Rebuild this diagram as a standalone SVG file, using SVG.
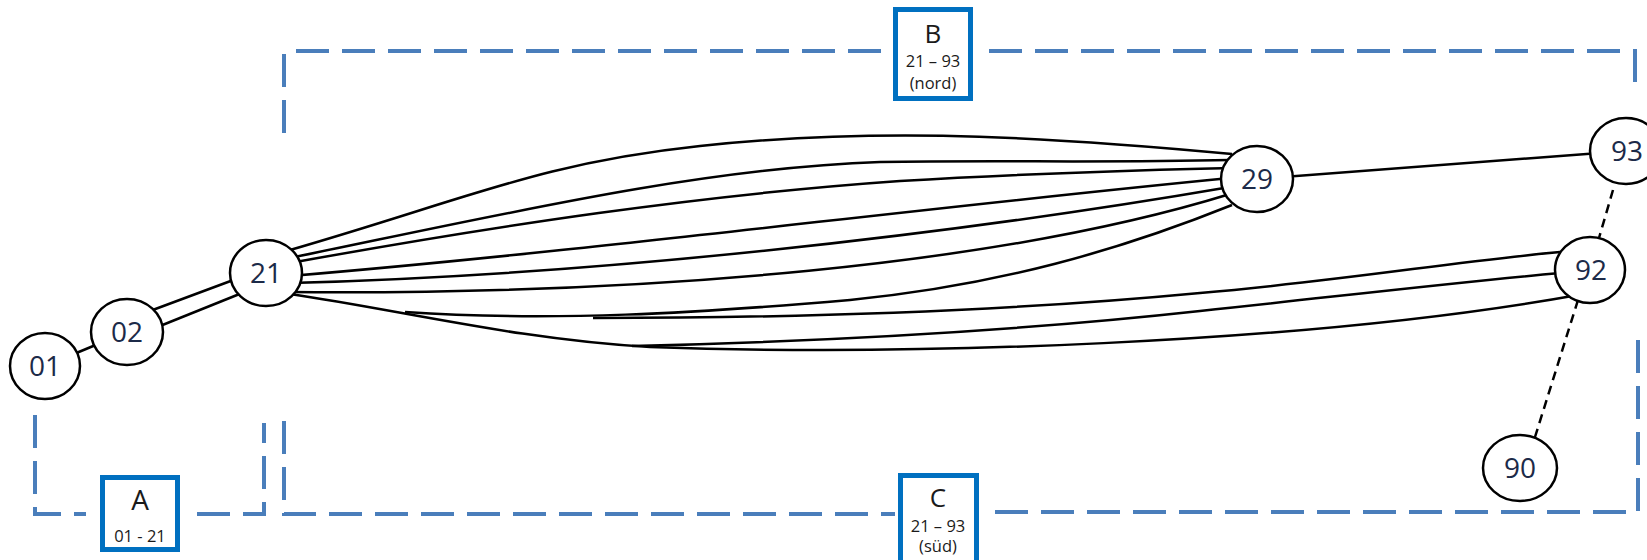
<svg xmlns="http://www.w3.org/2000/svg" width="1647" height="560" viewBox="0 0 1647 560">
  <style>
    .grp { fill: none; stroke: #4a7ebb; stroke-width: 4; stroke-dasharray: 33 13; }
    .tag rect { fill: #ffffff; stroke: #0070c0; stroke-width: 5; }
    .tag text { font-family: "Open Sans", "Liberation Sans", sans-serif; fill: #1a1a1a; text-anchor: middle; }
    .big { font-size: 26px; }
    .small { font-size: 16.5px; }
    .edge { fill: none; stroke: #000000; stroke-width: 2.5; }
    .dash { fill: none; stroke: #000000; stroke-width: 2.5; stroke-dasharray: 9 6; }
    .node ellipse { fill: #ffffff; stroke: #000000; stroke-width: 2.5; }
    .node text { font-family: "Open Sans", "Liberation Sans", sans-serif; font-size: 28px; fill: #1c2a48; text-anchor: middle; }
  </style>

  <!-- group outlines -->
  <g id="outlines">
    <!-- A -->
    <path class="grp" d="M35,415 V514 H86"/>
    <path class="grp" d="M197,514 H264 V423"/>
    <!-- B -->
    <path class="grp" d="M284,133 V53"/>
    <path class="grp" d="M296,51 H884"/>
    <path class="grp" d="M989,51 H1635 V88"/>
    <!-- C -->
    <path class="grp" d="M284,421 V514 H895"/>
    <path class="grp" d="M995,512 H1638 V333"/>
  </g>

  <!-- connectors -->
  <g id="connectors">
    <line class="edge" x1="45" y1="366" x2="127" y2="332"/>
    <line class="edge" x1="150" y1="311" x2="236" y2="279"/>
    <line class="edge" x1="160" y1="326" x2="242" y2="293"/>

    <!-- 21 to 29 -->
    <path class="edge" d="M290,250 C470,198 540,163 700,146 C860,129 1010,133 1232,154"/>
    <path class="edge" d="M290,258 C500,215 700,168 880,162 C1000,160 1100,163 1230,160"/>
    <path class="edge" d="M290,263 C500,225 700,195 900,181 C1050,172 1150,170 1230,168"/>
    <path class="edge" d="M290,276 C600,250 900,210 1230,178"/>
    <path class="edge" d="M290,283 C600,275 950,235 1230,187"/>
    <path class="edge" d="M290,292 C650,295 1000,265 1230,194"/>
    <path class="edge" d="M405,312 C550,322 700,313 850,300 C1000,285 1120,250 1232,205"/>

    <!-- 21 to 92 -->
    <path class="edge" d="M593,318 C800,318 1000,312 1200,293 C1350,280 1450,262 1560,252"/>
    <path class="edge" d="M632,346 C800,342 1000,333 1200,311 C1350,295 1450,283 1560,273"/>
    <path class="edge" d="M290,294 C400,310 520,340 650,347 C900,356 1300,345 1578,295"/>

    <!-- 29 to 93 -->
    <line class="edge" x1="1257" y1="179" x2="1626" y2="151"/>

    <!-- dashed links -->
    <line class="dash" x1="1613" y1="190" x2="1599" y2="238"/>
    <line class="dash" x1="1578" y1="300" x2="1535" y2="437"/>
  </g>

  <!-- nodes -->
  <g id="n01" class="node"><ellipse cx="45" cy="366" rx="35" ry="33"/><text x="45" y="376">01</text></g>
  <g id="n02" class="node"><ellipse cx="127" cy="332" rx="36" ry="33"/><text x="127" y="342">02</text></g>
  <g id="n21" class="node"><ellipse cx="266" cy="273" rx="36" ry="33"/><text x="266" y="283">21</text></g>
  <g id="n29" class="node"><ellipse cx="1257" cy="179" rx="36" ry="33"/><text x="1257" y="189">29</text></g>
  <g id="n93" class="node"><ellipse cx="1626" cy="151" rx="36" ry="33"/><text x="1627" y="161">93</text></g>
  <g id="n92" class="node"><ellipse cx="1590" cy="270" rx="35" ry="33"/><text x="1591" y="280">92</text></g>
  <g id="n90" class="node"><ellipse cx="1520" cy="468" rx="37" ry="33"/><text x="1520" y="478">90</text></g>

  <!-- group tags -->
  <g id="tagA" class="tag">
    <rect x="102.5" y="477.5" width="75" height="72"/>
    <text class="big" x="140" y="510" style="font-size:28px">A</text>
    <text class="small" x="140" y="542">01 - 21</text>
  </g>
  <g id="tagB" class="tag">
    <rect x="895.5" y="9.5" width="75" height="89"/>
    <text class="big" x="933" y="43">B</text>
    <text class="small" x="933" y="67">21 – 93</text>
    <text class="small" x="933" y="89">(nord)</text>
  </g>
  <g id="tagC" class="tag">
    <rect x="900.5" y="475.5" width="76" height="92"/>
    <text class="big" x="938" y="507">C</text>
    <text class="small" x="938" y="532">21 – 93</text>
    <text class="small" x="938" y="552">(süd)</text>
  </g>
</svg>
